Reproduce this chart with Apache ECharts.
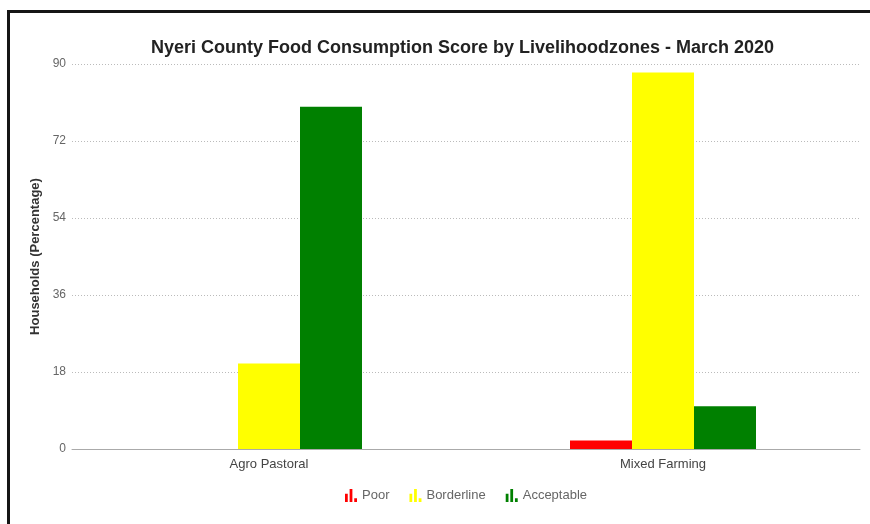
<!DOCTYPE html>
<html>
<head>
<meta charset="utf-8">
<style>
  html, body { margin: 0; padding: 0; background: #fff; }
  #chart { position: absolute; left: 0; top: 0; width: 870px; height: 524px; }
  #frame { position: absolute; left: 7px; top: 10px; width: 863px; height: 514px;
           border-left: 3px solid #151515; border-top: 3px solid #151515;
           box-sizing: border-box; pointer-events: none; }
</style>
<script src="https://cdn.jsdelivr.net/npm/echarts@6/dist/echarts.min.js"></script>
</head>
<body>
<div id="chart"></div>
<div id="frame"></div>
<script>
// Livelihood zones and household share (%) per food consumption group
const zones = ['Agro Pastoral', 'Mixed Farming'];
const poor = [0, 2];
const borderline = [20, 88];
const acceptable = [80, 10];
const yTicks = [0, 18, 36, 54, 72, 90];

const groupColors = { Poor: '#ff0000', Borderline: '#ffff00', Acceptable: '#008000' };
const barIcon = 'path://M0,5h3v9h-3z M5,0h3v14h-3z M10,10h3v4h-3z';
const font = 'Liberation Sans, Arial, sans-serif';

const chart = echarts.init(document.getElementById('chart'), null, { renderer: 'canvas' });

function barSeries(name, data) {
  return {
    name: name,
    type: 'bar',
    data: data,
    barWidth: 62,
    barGap: '0%',
    itemStyle: { color: groupColors[name] },
    emphasis: { disabled: true }
  };
}

chart.setOption({
  animation: false,
  title: {
    text: 'Nyeri County Food Consumption Score by Livelihoodzones - March 2020',
    left: 146,
    top: 34,
    textStyle: { fontFamily: font, fontSize: 18, fontWeight: 'bold', color: '#222' }
  },
  legend: {
    bottom: 17,
    left: 340,
    itemWidth: 12,
    itemHeight: 14,
    itemGap: 20,
    icon: barIcon,
    textStyle: { fontFamily: font, fontSize: 13, color: '#666' },
    data: ['Poor', 'Borderline', 'Acceptable']
  },
  grid: { left: 72, right: 10, top: 64, bottom: 75 },
  xAxis: {
    type: 'category',
    data: zones,
    axisTick: { show: false },
    axisLine: { lineStyle: { color: '#aaa', width: 1 } },
    axisLabel: { fontFamily: font, fontSize: 13, color: '#444', margin: 9 }
  },
  yAxis: {
    type: 'value',
    min: yTicks[0],
    max: yTicks[yTicks.length - 1],
    interval: 18,
    name: 'Households (Percentage)',
    nameLocation: 'middle',
    nameGap: 27,
    nameTextStyle: { fontFamily: font, fontSize: 13, fontWeight: 'bold', color: '#333' },
    axisLine: { show: false },
    axisTick: { show: false },
    axisLabel: { fontFamily: font, fontSize: 12, color: '#666', margin: 6 },
    splitLine: { lineStyle: { color: '#bbb', type: [1, 2], width: 1 } }
  },
  series: [
    barSeries('Poor', poor),
    barSeries('Borderline', borderline),
    barSeries('Acceptable', acceptable)
  ]
});
</script>
</body>
</html>
